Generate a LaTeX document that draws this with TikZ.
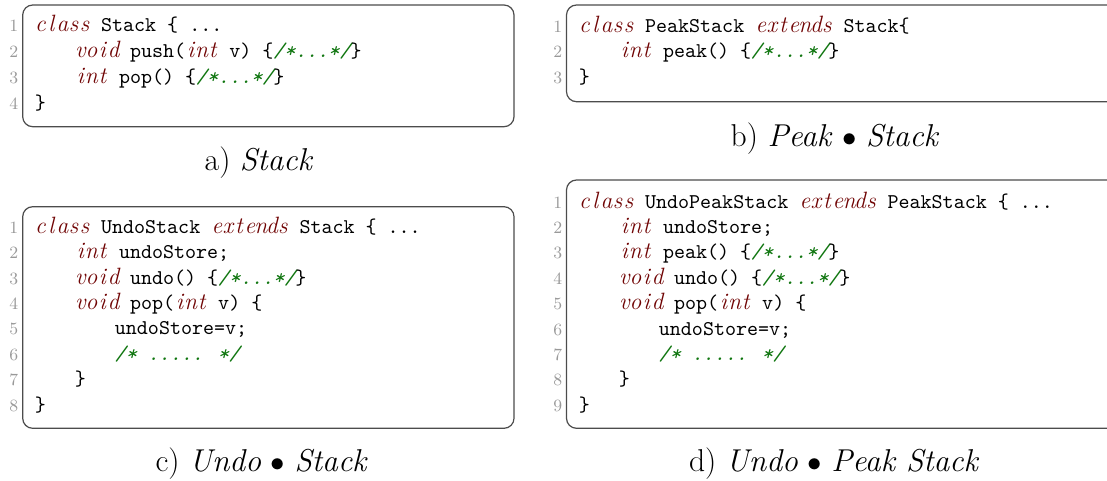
\documentclass[tikz,border=0pt]{standalone}
\usepackage{tikz}

\definecolor{kwred}{RGB}{112,4,4}
\definecolor{cmtgreen}{RGB}{16,118,16}

\newlength\cellw
\setlength\cellw{5.5125pt}
\def\cellsplit#1{\ifx#1\relax\else\makebox[\cellw]{#1}\expandafter\cellsplit\fi}
\newcommand\kw[1]{{\color{kwred}\fontsize{11.8}{12}\rmfamily\itshape\cellsplit#1\relax}}
\newcommand\cmt{{\color{cmtgreen}\itshape/*...*/}}
\newcommand\cmtlong{{\color{cmtgreen}\itshape/* ..... */}}
\newcommand\codefont{\fontsize{10.5}{12}\selectfont\ttfamily}

\tikzset{
  codebox/.style={draw=black!70,line width=0.6pt,rounded corners=5pt},
  codeline/.style={anchor=base west,inner sep=0pt,font=\codefont},
  lineno/.style={anchor=base east,inner sep=0pt,text=black!40,font=\fontsize{8.6}{9}\selectfont},
  subcap/.style={anchor=base,inner sep=0pt,font=\fontsize{15.8}{19}\selectfont}
}

\begin{document}
\begin{tikzpicture}[x=0.5pt,y=-0.5pt]
      \useasboundingbox (0,0) rectangle (1107,481);

      % the four listings
      \draw[codebox] (22.7,5) rectangle (514,126.7);
      \draw[codebox] (1107,5) -- (566.5,5) -- (566.5,101.7) -- (1107,101.7);
      \draw[codebox] (22.7,206.7) rectangle (514,428.3);
      \draw[codebox] (1107,180) -- (566.5,180) -- (566.5,428.3) -- (1107,428.3);

      % a) Stack
      \foreach \lvl/\txt [count=\i] in {0/{\kw{class} Stack \{ ...},
                                       1/{\kw{void} push(\kw{int} v) \{\cmt\}},
                                       1/{\kw{int} pop() \{\cmt\}},
                                       0/{\}}}{
        \node[lineno] (an\i) at (18.5,{31.7+25.8*(\i-1)}) {\i};
        \node[codeline] (a\i) at ({34.5+40*\lvl},{31.7+25.8*(\i-1)}) {\txt};
      }

      % b) Peak . Stack
      \foreach \lvl/\txt [count=\i] in {0/{\kw{class} PeakStack \kw{extends} Stack\{},
                                       1/{\kw{int} peak() \{\cmt\}},
                                       0/{\}}}{
        \node[lineno] (bn\i) at (562.5,{32.5+25.5*(\i-1)}) {\i};
        \node[codeline] (b\i) at ({578.5+40*\lvl},{32.5+25.5*(\i-1)}) {\txt};
      }

      % c) Undo . Stack
      \foreach \lvl/\txt [count=\i] in {0/{\kw{class} UndoStack \kw{extends} Stack \{ ...},
                                       1/{\kw{int} undoStore;},
                                       1/{\kw{void} undo() \{\cmt\}},
                                       1/{\kw{void} pop(\kw{int} v) \{},
                                       2/{undoStore=v;},
                                       2/{\cmtlong},
                                       1/{\}},
                                       0/{\}}}{
        \node[lineno] (cn\i) at (18.5,{233.2+25.4*(\i-1)}) {\i};
        \node[codeline] (c\i) at ({34.5+40*\lvl},{233.2+25.4*(\i-1)}) {\txt};
      }

      % d) Undo . Peak Stack
      \foreach \lvl/\txt [count=\i] in {0/{\kw{class} UndoPeakStack \kw{extends} PeakStack \{ ...},
                                       1/{\kw{int} undoStore;},
                                       1/{\kw{int} peak() \{\cmt\}},
                                       1/{\kw{void} undo() \{\cmt\}},
                                       1/{\kw{void} pop(\kw{int} v) \{},
                                       2/{undoStore=v;},
                                       2/{\cmtlong},
                                       1/{\}},
                                       0/{\}}}{
        \node[lineno] (dn\i) at (562.5,{208.3+25.34*(\i-1)}) {\i};
        \node[codeline] (d\i) at ({578.5+40*\lvl},{208.3+25.34*(\i-1)}) {\txt};
      }

      % captions
      \node[subcap] (capa) at (259,170) {a) \textit{Stack}};
      \node[subcap] (capb) at (835,146.7) {b) \textit{Peak} $\bullet$ \textit{Stack}};
      \node[subcap] (capc) at (261.7,471.7) {c) \textit{Undo} $\bullet$ \textit{Stack}};
      \node[subcap] (capd) at (834.2,471.7) {d) \textit{Undo} $\bullet$ \textit{Peak Stack}};
\end{tikzpicture}
\end{document}
